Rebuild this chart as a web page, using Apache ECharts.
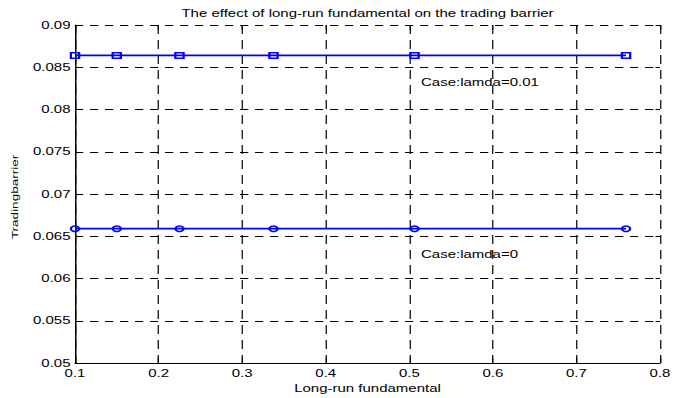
<!DOCTYPE html>
<html>
<head>
<meta charset="utf-8">
<script src="https://cdn.jsdelivr.net/npm/echarts@6/dist/echarts.min.js"></script>
<style>
  html, body { margin: 0; padding: 0; background: #fff; overflow: hidden; }
  /* the figure is laid out at 450px and widened 1.5x, like the stretched export it comes from */
  #chart { width: 450px; height: 398px; transform: scaleX(1.5); transform-origin: 0 0; }
</style>
</head>
<body>
<div id="chart"></div>
<script>
// long-run fundamental values (x) and the resulting trading barrier for each case
const fundamental = [0.1, 0.15, 0.225, 0.3375, 0.50625, 0.759375];
const barrierLamda001 = [0.0864, 0.0864, 0.0864, 0.0864, 0.0864, 0.0864];
const barrierLamda0 = [0.0659, 0.0659, 0.0659, 0.0659, 0.0659, 0.0659];

const xTickLabels = ['0.1', '0.2', '0.3', '0.4', '0.5', '0.6', '0.7', '0.8'];
const yTickLabels = ['0.05', '0.055', '0.06', '0.065', '0.07', '0.075', '0.08', '0.085', '0.09'];

// annotation anchors in data coordinates
const caseNotes = [
  { text: 'Case:lamda=0.01', at: [0.514, 0.0832] },
  { text: 'Case:lamda=0', at: [0.514, 0.0629] }
];

const FONT = 'Liberation Sans, Arial, sans-serif';
const BLUE = '#0000ff';

const chart = echarts.init(document.getElementById('chart'), null, { renderer: 'svg' });

const xBase = { type: 'value', min: 0.1, max: 0.8, interval: 0.1 };
const yBase = { type: 'value', min: 0.05, max: 0.09, interval: 0.005 };

chart.setOption({
  animation: false,
  backgroundColor: '#fff',
  title: {
    text: 'The effect of long-run fundamental on the trading barrier',
    left: 245,
    textAlign: 'center',
    top: 8,
    padding: 0,
    textStyle: { fontFamily: FONT, fontSize: 10, fontWeight: 'normal', color: '#000' }
  },
  grid: { left: 50, right: 10, top: 25, bottom: 33, containLabel: false },
  xAxis: [
    Object.assign({}, xBase, {
      position: 'bottom',
      name: 'Long-run fundamental',
      nameLocation: 'middle',
      nameGap: 19,
      nameTextStyle: { fontFamily: FONT, fontSize: 10, color: '#000' },
      axisLine: { show: true, onZero: false, lineStyle: { color: '#000', width: 1 } },
      axisTick: { show: true, inside: true, length: 5, lineStyle: { color: '#000', width: 0.7 } },
      axisLabel: {
        margin: 5, color: '#000', fontFamily: FONT, fontSize: 10,
        formatter: (v, i) => xTickLabels[i]
      },
      splitLine: { show: true, lineStyle: { color: '#000', width: 0.8, type: [9, 6] } }
    }),
    Object.assign({}, xBase, {
      position: 'top',
      axisLine: { show: false },
      axisTick: { show: true, inside: true, length: 5, lineStyle: { color: '#000', width: 0.7 } },
      axisLabel: { show: false },
      splitLine: { show: false }
    })
  ],
  yAxis: [
    Object.assign({}, yBase, {
      position: 'left',
      axisLine: { show: true, onZero: false, lineStyle: { color: '#000', width: 1 } },
      axisTick: { show: true, inside: true, length: 3, lineStyle: { color: '#000', width: 1 } },
      axisLabel: {
        margin: 3, color: '#000', fontFamily: FONT, fontSize: 10,
        formatter: (v, i) => yTickLabels[i]
      },
      splitLine: { show: true, lineStyle: { color: '#000', width: 1, type: [5.5, 4.5] } }
    }),
    Object.assign({}, yBase, {
      position: 'right',
      axisLine: { show: false },
      axisTick: { show: true, inside: true, length: 3, lineStyle: { color: '#000', width: 1 } },
      axisLabel: { show: false },
      splitLine: { show: false }
    })
  ],
  series: [
    {
      name: 'lamda=0.01',
      type: 'line',
      xAxisIndex: 0, yAxisIndex: 0,
      data: fundamental.map((x, i) => [x, barrierLamda001[i]]),
      symbol: 'rect',
      symbolSize: 5.5,
      showAllSymbol: true,
      lineStyle: { color: BLUE, width: 1.8 },
      itemStyle: { color: 'rgba(0,0,0,0)', borderColor: BLUE, borderWidth: 1.5 },
      z: 3
    },
    {
      name: 'lamda=0',
      type: 'line',
      xAxisIndex: 0, yAxisIndex: 0,
      data: fundamental.map((x, i) => [x, barrierLamda0[i]]),
      symbol: 'circle',
      symbolSize: 5.5,
      showAllSymbol: true,
      lineStyle: { color: BLUE, width: 1.8 },
      itemStyle: { color: 'rgba(0,0,0,0)', borderColor: BLUE, borderWidth: 1.5 },
      z: 3
    }
  ]
});

// case labels placed from data coordinates, plus the tall, thin vertical axis title
const notes = caseNotes.map(n => {
  const p = chart.convertToPixel({ gridIndex: 0 }, n.at);
  return {
    type: 'text', x: p[0], y: p[1], z: 10,
    style: { text: n.text, fill: '#000', font: '10px ' + FONT, align: 'left', verticalAlign: 'middle' }
  };
});
notes.push({
  type: 'text', x: 10, y: 197, rotation: Math.PI / 2, scaleX: 1.35, scaleY: 0.6, z: 10,
  style: { text: 'Tradingbarrier', fill: '#000', font: '10px ' + FONT, align: 'center', verticalAlign: 'middle' }
});
chart.setOption({ graphic: notes });
</script>
</body>
</html>
